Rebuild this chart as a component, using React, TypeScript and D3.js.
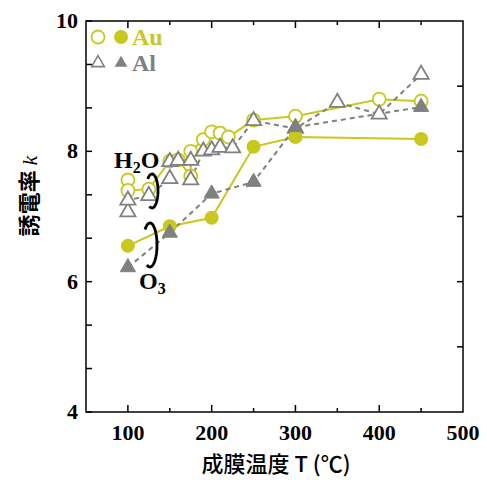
import React from "react";
import * as d3 from "d3";

const auOpenT = [100, 100, 125, 150, 160, 175, 175, 190, 200, 210, 220, 250, 300, 400, 450];
const auOpenK = [7.56, 7.4, 7.42, 7.85, 7.87, 7.62, 8.0, 8.18, 8.3, 8.28, 8.22, 8.48, 8.54, 8.8, 8.77];
const alOpenT = [100, 100, 125, 150, 150, 160, 175, 175, 190, 200, 210, 225, 250, 300, 350, 400, 450];
const alOpenK = [7.07, 7.25, 7.32, 7.58, 7.84, 7.86, 7.86, 7.56, 8.0, 8.02, 8.06, 8.05, 8.47, 8.35, 8.75, 8.57, 9.18];
const auFillT = [100, 150, 200, 250, 300, 450];
const auFillK = [6.55, 6.85, 6.98, 8.07, 8.22, 8.19];
const alFillT = [100, 150, 200, 250, 300, 450];
const alFillK = [6.22, 6.75, 7.35, 7.53, 8.37, 8.68];

const xTicks = [100, 200, 300, 400, 500];
const xMinor = [100, 150, 200, 250, 300, 350, 400, 450];
const yTicks = [4, 6, 8, 10];
const yLeftMinor = [4, 4.667, 5.333, 6, 6.667, 7.333, 8, 8.667, 9.333, 10];
const yRightMinor = [5, 6, 7, 8, 9];

const YEL = "#c8c81e";
const GRY = "#808080";
const SERIF = "'Liberation Serif', 'Times New Roman', serif";
const CJK = "'Noto Sans CJK JP', 'Noto Sans', sans-serif";

export default function App() {
  const L = 86, R = 463, T = 21, B = 412;
  const x = d3.scaleLinear().domain([50, 500]).range([L, R]);
  const y = d3.scaleLinear().domain([4, 10]).range([B, T]);
  const pts = (ts: number[], ks: number[]) => ts.map((t, i) => [x(t), y(ks[i])] as [number, number]);
  const line = d3.line();
  const tri = d3.symbol().type(d3.symbolTriangle).size(100)() as string;
  const triLeg = d3.symbol().type(d3.symbolTriangle).size(70)() as string;

  const auO = pts(auOpenT, auOpenK);
  const alO = pts(alOpenT, alOpenK);
  const auF = pts(auFillT, auFillK);
  const alF = pts(alFillT, alFillK);

  const arc = (cx: number, cy: number, rx: number, ry: number) => {
    const p = d3.path();
    const a0 = (-45 * Math.PI) / 180;
    const a1 = (205 * Math.PI) / 180;
    const n = 48;
    for (let i = 0; i <= n; i++) {
      const a = a0 + ((a1 - a0) * i) / n;
      const px = cx + rx * Math.sin(a);
      const py = cy - ry * Math.cos(a);
      if (i === 0) p.moveTo(px, py);
      else p.lineTo(px, py);
    }
    return p.toString();
  };

  return (
    <svg width={487} height={480} style={{ position: "absolute", left: 0, top: 0, background: "#fff" }}>
      {/* lines */}
      <path d={line(auO) as string} fill="none" stroke={YEL} strokeWidth={2} />
      <path d={line(alO) as string} fill="none" stroke={GRY} strokeWidth={2} strokeDasharray="5,4" />
      <path d={line(auF) as string} fill="none" stroke={YEL} strokeWidth={2} />
      <path d={line(alF) as string} fill="none" stroke={GRY} strokeWidth={2} strokeDasharray="5,4" />
      {/* open markers */}
      {auO.map((p, i) => (
        <circle key={"ao" + i} cx={p[0]} cy={p[1]} r={6.5} fill="#fff" stroke={YEL} strokeWidth={1.8} />
      ))}
      {alO.map((p, i) => (
        <path key={"lo" + i} d={tri} transform={`translate(${p[0]},${p[1]})`} fill="#fff" stroke={GRY} strokeWidth={1.8} />
      ))}
      {/* filled markers */}
      {auF.map((p, i) => (
        <circle key={"af" + i} cx={p[0]} cy={p[1]} r={7} fill={YEL} />
      ))}
      {alF.map((p, i) => (
        <path key={"lf" + i} d={tri} transform={`translate(${p[0]},${p[1]})`} fill={GRY} stroke={GRY} strokeWidth={1} />
      ))}

      {/* frame */}
      <rect x={L} y={T} width={R - L} height={B - T} fill="none" stroke="#000" strokeWidth={1.5} />
      {xMinor.map((t) => (
        <g key={"xt" + t}>
          <line x1={x(t)} x2={x(t)} y1={B} y2={B - (t % 100 === 0 ? 7 : 4)} stroke="#000" strokeWidth={1.5} />
          <line x1={x(t)} x2={x(t)} y1={T} y2={T + (t % 100 === 0 ? 7 : 4)} stroke="#000" strokeWidth={1.5} />
        </g>
      ))}
      {yLeftMinor.map((k) => (
        <line key={"yl" + k} x1={L} x2={L + 6} y1={y(k)} y2={y(k)} stroke="#000" strokeWidth={1.5} />
      ))}
      {yRightMinor.map((k) => (
        <line key={"yr" + k} x1={R} x2={R - 6} y1={y(k)} y2={y(k)} stroke="#000" strokeWidth={1.5} />
      ))}
      {xTicks.map((t) => (
        <text key={"xl" + t} x={x(t)} y={440} textAnchor="middle" fontFamily={SERIF} fontWeight="bold" fontSize={22}>
          {t}
        </text>
      ))}
      {yTicks.map((k) => (
        <text key={"ylb" + k} x={78} y={y(k) + 7} textAnchor="end" fontFamily={SERIF} fontWeight="bold" fontSize={22}>
          {k}
        </text>
      ))}

      {/* axis titles */}
      <text x={276} y={472} textAnchor="middle" fontFamily={CJK} fontWeight={500} fontSize={22}>
        成膜温度 T (℃)
      </text>
      <text transform="translate(37,196) rotate(-90)" textAnchor="middle" fontFamily={CJK} fontWeight="bold" fontSize={22}>
        誘電率 <tspan fontFamily={SERIF} fontStyle="italic" fontWeight="normal">k</tspan>
      </text>

      {/* legend */}
      <circle cx={98} cy={37} r={6.5} fill="#fff" stroke={YEL} strokeWidth={1.8} />
      <circle cx={121} cy={37} r={7} fill={YEL} />
      <text x={132} y={45} fontFamily={SERIF} fontWeight="bold" fontSize={24} fill={YEL}>Au</text>
      <path d={triLeg} transform="translate(98,63)" fill="#fff" stroke={GRY} strokeWidth={1.6} />
      <path d={triLeg} transform="translate(121,63)" fill={GRY} />
      <text x={132} y={71} fontFamily={SERIF} fontWeight="bold" fontSize={24} fill={GRY}>Al</text>

      {/* annotations */}
      <text x={114} y={168} fontFamily={SERIF} fontWeight="bold" fontSize={24}>
        H<tspan fontSize={16} dy={5}>2</tspan><tspan dy={-5}>O</tspan>
      </text>
      <path d={arc(152, 191, 6, 17)} fill="none" stroke="#000" strokeWidth={2.8} />
      <path d={arc(150, 245, 7, 22)} fill="none" stroke="#000" strokeWidth={2.8} />
      <text x={139} y={289} fontFamily={SERIF} fontWeight="bold" fontSize={24}>
        O<tspan fontSize={16} dy={5}>3</tspan>
      </text>
    </svg>
  );
}
